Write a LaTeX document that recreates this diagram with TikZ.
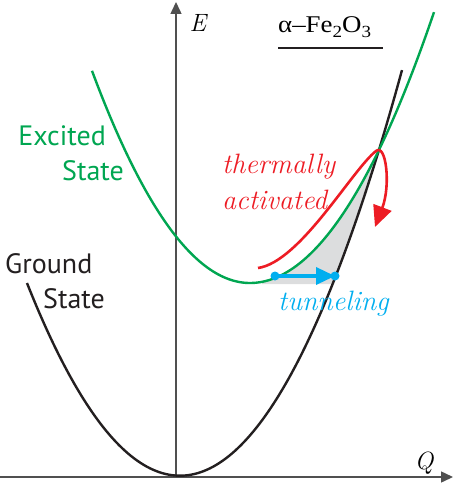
\documentclass[tikz,border=0pt]{standalone}
\usepackage{fontspec}
\newfontfamily\sansf{PT Sans}
\newfontfamily\formf{Liberation Serif}
\usetikzlibrary{arrows.meta}
\definecolor{exgreen}{HTML}{00A651}
\definecolor{thred}{HTML}{ED1C24}
\definecolor{tuncyan}{HTML}{00AEEF}
\definecolor{axgray}{HTML}{505050}
\definecolor{curveblack}{HTML}{231F20}
\definecolor{shadegray}{HTML}{DCDDDE}
\newcommand{\subtxt}[1]{\raisebox{-5pt}{\fontsize{17}{17}\selectfont #1}}
\tikzset{
  axisline/.style={draw=axgray, line width=1.5pt, -{Triangle[length=12pt,width=11pt]}},
  curveline/.style={line width=2.4pt},
  lbl/.style={inner sep=0pt},
  sanslbl/.style={lbl, font=\sansf\fontsize{28}{30}\selectfont},
  itlbl/.style={lbl, font=\fontsize{28}{30}\selectfont\itshape},
  axlbl/.style={lbl, font=\fontsize{25}{27}\selectfont\itshape},
  tdot/.style={circle, fill=tuncyan, inner sep=0pt, minimum size=9pt},
}
\begin{document}
\begin{tikzpicture}[x=1pt,y=-1pt]
\useasboundingbox (0,0) rectangle (455,484);
% shaded region
\fill[shadegray] plot[domain=262:379.5,samples=50] (\x,{484-(201+0.8*((\x-250)/10)^2)})
  -- plot[domain=379.5:332.6,samples=30] (\x,{484-(8.3+0.823*((\x-180)/10)^2)})
  -- (262,284) -- cycle;
% axes
\coordinate (o) at (176,477);
\coordinate (xo) at (0,477);
\coordinate (xe) at (453,477);
\coordinate (ye) at (176,2);
\draw[axisline] (o) -- (ye);
\draw[axisline] (xo) -- (xe);
% curves
\draw[curveline, curveblack] plot[domain=27:402,samples=120] (\x,{484-(8.3+0.823*((\x-180)/10)^2)});
\draw[curveline, exgreen] plot[domain=92:250,samples=60] (\x,{484-(201+0.85*((\x-250)/10)^2)})
  -- plot[domain=250:434,samples=60] (\x,{484-(201+0.8*((\x-250)/10)^2)});
% thermal path
\coordinate (ts) at (258,268);
\coordinate (tp) at (376,151);
\coordinate (te) at (375,227);
\draw[thred, line width=2.6pt, -{Triangle[length=21pt,width=19pt]}]
  (ts) .. controls (300,262) and (352,170) .. (tp) .. controls (386,143) and (391,185) .. (te);
% tunneling
\node[tdot] (tl) at (275,276) {};
\node[tdot] (tr) at (335,276) {};
\draw[tuncyan, line width=3.5pt, -{Triangle[length=19pt,width=17pt]}] (tl.center) -- (tr.center);
% labels
\node[axlbl, anchor=base] (E) at (198,32) {E};
\node[axlbl, anchor=base] (Q) at (424,469) {Q};
\node[lbl, anchor=base west, font=\formf\fontsize{24}{26}\selectfont] (fm) at (278,33)
  {\scalebox{1.12}[1]{α–Fe\subtxt{2}O\subtxt{3}}};
\coordinate (ul1) at (278,48);
\coordinate (ul2) at (383,48);
\draw[line width=1.2pt, curveblack] (ul1) -- (ul2);
\node[sanslbl, exgreen, anchor=base east] (ex1) at (106,145) {Excited};
\node[sanslbl, exgreen, anchor=base east] (ex2) at (124,180) {State};
\node[sanslbl, curveblack, anchor=base west] (gr1) at (5,273) {Ground};
\node[sanslbl, curveblack, anchor=base west] (gr2) at (43,308) {State};
\node[itlbl, thred, anchor=base west] (th1) at (222,173) {thermally};
\node[itlbl, thred, anchor=base west] (th2) at (222,209) {activated};
\node[itlbl, tuncyan, anchor=base west] (tun) at (278,310) {tunneling};
\end{tikzpicture}
\end{document}
